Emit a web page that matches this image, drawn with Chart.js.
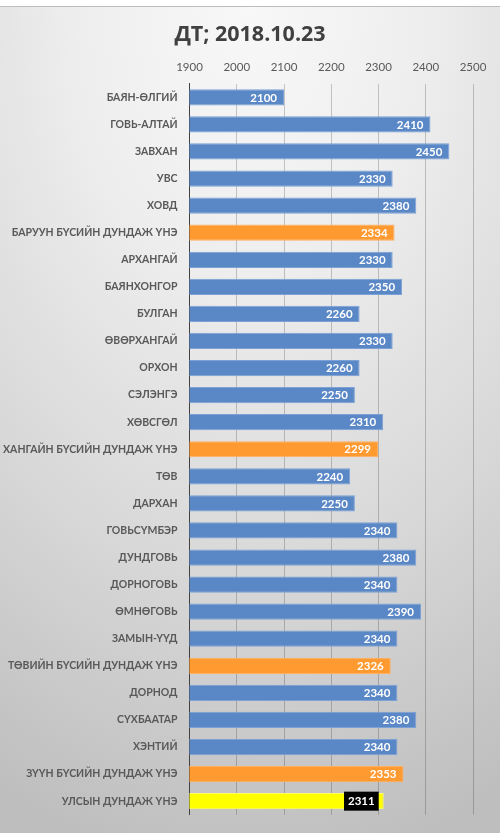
<!DOCTYPE html>
<html>
<head>
<meta charset="utf-8">
<script src="https://cdn.jsdelivr.net/npm/chart.js@4"></script>
<style>
  html, body { margin: 0; padding: 0; background: #fff; }
  #wrap { position: relative; width: 500px; height: 833px; overflow: hidden; }
  #bg {
    position: absolute; left: 0; top: 6px; width: 500px; height: 827px;
    border-top: 1.5px solid #bdbdbd;
    background: radial-gradient(ellipse 115% 105% at 50% 0%, #f8f8f8 0%, #eeeeee 30%, #d8d8d8 65%, #bebebe 100%);
  }
  #chart { position: absolute; left: 0; top: 0; }
</style>
</head>
<body>
<div id="wrap">
  <div id="bg"></div>
  <canvas id="chart" width="500" height="833"></canvas>
</div>
<script>
// Diesel fuel (ДТ) price by aimag, 2018.10.23

const TITLE = "ДТ; 2018.10.23";

const regions = [
  "БАЯН-ӨЛГИЙ", "ГОВЬ-АЛТАЙ", "ЗАВХАН", "УВС", "ХОВД",
  "БАРУУН БҮСИЙН ДУНДАЖ ҮНЭ",
  "АРХАНГАЙ", "БАЯНХОНГОР", "БУЛГАН", "ӨВӨРХАНГАЙ", "ОРХОН", "СЭЛЭНГЭ", "ХӨВСГӨЛ",
  "ХАНГАЙН БҮСИЙН ДУНДАЖ ҮНЭ",
  "ТӨВ", "ДАРХАН", "ГОВЬСҮМБЭР", "ДУНДГОВЬ", "ДОРНОГОВЬ", "ӨМНӨГОВЬ", "ЗАМЫН-ҮҮД",
  "ТӨВИЙН БҮСИЙН ДУНДАЖ ҮНЭ",
  "ДОРНОД", "СҮХБААТАР", "ХЭНТИЙ",
  "ЗҮҮН БҮСИЙН ДУНДАЖ ҮНЭ",
  "УЛСЫН ДУНДАЖ ҮНЭ",
];

const prices = [
  2100, 2410, 2450, 2330, 2380,
  2334,
  2330, 2350, 2260, 2330, 2260, 2250, 2310,
  2299,
  2240, 2250, 2340, 2380, 2340, 2390, 2340,
  2326,
  2340, 2380, 2340,
  2353,
  2311,
];

// row kind: "aimag", "zone" (regional average) or "national"
const kinds = [
  "aimag", "aimag", "aimag", "aimag", "aimag",
  "zone",
  "aimag", "aimag", "aimag", "aimag", "aimag", "aimag", "aimag",
  "zone",
  "aimag", "aimag", "aimag", "aimag", "aimag", "aimag", "aimag",
  "zone",
  "aimag", "aimag", "aimag",
  "zone",
  "national",
];

const xTicks = [1900, 2000, 2100, 2200, 2300, 2400, 2500];

const FILL = { aimag: "#5A87C6", zone: "#FF9A30", national: "#FFFF00" };
const EDGE = { aimag: "#7CA1D6", zone: "#FFB062", national: "#FFFF66" };

const FONT = "Lato, 'Open Sans', 'Noto Sans', sans-serif";
const TITLE_FONT = "'Open Sans', Lato, sans-serif";

// Value labels drawn at the inner end of each bar
const barValueLabels = {
  id: "barValueLabels",
  afterDatasetsDraw(chart) {
    const { ctx } = chart;
    const meta = chart.getDatasetMeta(0);
    ctx.save();
    ctx.font = "bold 11.5px " + FONT;
    ctx.textBaseline = "middle";
    meta.data.forEach((bar, i) => {
      const text = String(prices[i]);
      const w = ctx.measureText(text).width;
      if (kinds[i] === "national") {
        const bw = w + 8, bh = 19;
        const right = bar.x - 5;
        ctx.fillStyle = "#000";
        ctx.fillRect(right - bw, bar.y - bh / 2, bw, bh);
        ctx.fillStyle = "#fff";
        ctx.textAlign = "center";
        ctx.fillText(text, right - bw / 2, bar.y + 0.5);
      } else {
        ctx.fillStyle = "#fff";
        ctx.textAlign = "right";
        ctx.fillText(text, bar.x - 7, bar.y + 0.5);
      }
    });
    ctx.restore();
  },
};

new Chart(document.getElementById("chart"), {
  type: "bar",
  data: {
    labels: regions,
    datasets: [{
      data: prices,
      backgroundColor: kinds.map(k => FILL[k]),
      borderColor: kinds.map(k => EDGE[k]),
      borderWidth: 1,
      borderSkipped: "left",
      categoryPercentage: 1,
      barPercentage: 0.6,
    }],
  },
  options: {
    indexAxis: "y",
    responsive: false,
    animation: false,
    layout: { padding: { left: 0, right: 0, top: 0, bottom: 12 } },
    plugins: {
      legend: { display: false },
      tooltip: { enabled: false },
      title: {
        display: true,
        text: TITLE,
        color: "#404040",
        font: { family: TITLE_FONT, size: 21.5, weight: "bold", lineHeight: 1.2 },
        padding: { top: 22, bottom: 9 },
      },
    },
    scales: {
      x: {
        position: "top",
        min: 1900,
        max: 2500,
        afterBuildTicks: axis => { axis.ticks = xTicks.map(v => ({ value: v })); },
        afterFit: axis => { axis.height = 27; },
        grid: { color: "rgba(0,0,0,0.2)", lineWidth: 1, drawTicks: false },
        border: { display: false },
        ticks: {
          color: "#595959",
          padding: 10,
          font: { family: FONT, size: 11.5 },
          callback: v => String(v),
        },
      },
      y: {
        afterFit: axis => { axis.width = 189.5; },
        grid: { display: false, drawTicks: false },
        border: { display: true, color: "#404040", width: 1 },
        ticks: {
          color: "#595959",
          padding: 12,
          autoSkip: false,
          font: { family: FONT, size: 10.5, weight: "bold" },
        },
      },
      // empty right-hand gutter so the title stays centred on the full width
      gutter: {
        type: "linear",
        axis: "y",
        position: "right",
        min: 0,
        max: 1,
        afterFit: axis => { axis.width = 27; },
        grid: { display: false, drawTicks: false },
        border: { display: false },
        ticks: { display: false },
      },
    },
  },
  plugins: [barValueLabels],
});
</script>
</body>
</html>
